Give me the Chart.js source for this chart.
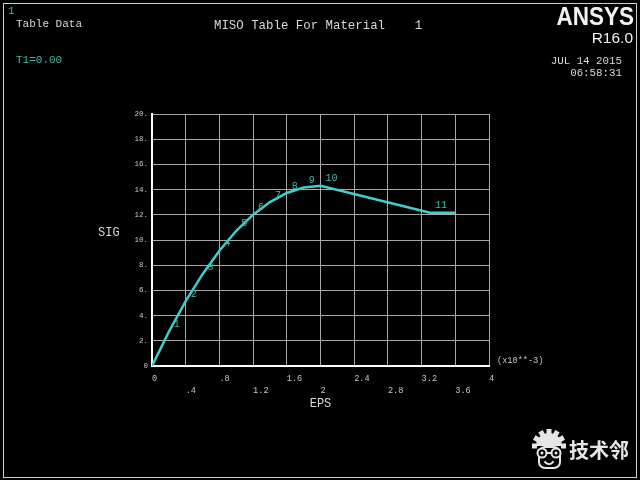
<!DOCTYPE html>
<html>
<head>
<meta charset="utf-8">
<script src="https://cdn.jsdelivr.net/npm/chart.js@4.4.0/dist/chart.umd.min.js"></script>
<style>
  html, body { margin: 0; padding: 0; background: #000; }
  canvas { display: block; }
</style>
</head>
<body>
<canvas id="chart" width="640" height="480"></canvas>
<script>
// --- Data ---
const epsValues = [0, 0.2, 0.4, 0.6, 0.8, 1.0, 1.2, 1.4, 1.6, 1.8, 2.0, 3.3, 3.6];
const sigValues = [0, 2.72, 5.15, 7.29, 9.15, 10.73, 12.01, 13.01, 13.73, 14.16, 14.3, 12.16, 12.16];
const pointNumbers = ['', '1', '2', '3', '4', '5', '6', '7', '8', '9', '10', '11', ''];

const xTickValues = [0, 0.4, 0.8, 1.2, 1.6, 2.0, 2.4, 2.8, 3.2, 3.6, 4.0];
const xTickLabels = ['0', '.4', '.8', '1.2', '1.6', '2', '2.4', '2.8', '3.2', '3.6', '4'];
const yTickValues = [0, 2, 4, 6, 8, 10, 12, 14, 16, 18, 20];
const yTickLabels = ['0', '2.', '4.', '6.', '8.', '10.', '12.', '14.', '16.', '18.', '20.'];

// --- Colours & fonts ---
const MONO = '"Liberation Mono", "DejaVu Sans Mono", monospace';
const textGrey = '#d8d8d8';
const tickGrey = '#c8c8c8';
const gridGrey = '#a8a8a8';
const curveCyan = '#3fcfcf';
const labelTeal = '#3cbfa8';

// black page + outer frame
const backgroundPlugin = {
    id: 'background',
    beforeDraw(chart) {
        const ctx = chart.ctx;
        ctx.save();
        ctx.fillStyle = '#000';
        ctx.fillRect(0, 0, chart.width, chart.height);
        ctx.strokeStyle = '#cfcfcf';
        ctx.lineWidth = 1;
        ctx.strokeRect(3.5, 3.5, 633, 474);
        ctx.restore();
    }
};

function drawWatermark(ctx) {
    ctx.save();
    ctx.fillStyle = '#e6e6e6';
    ctx.strokeStyle = '#e6e6e6';

    // gear shaped hair
    const gx = 549, gy = 446;
    ctx.beginPath();
    ctx.arc(gx, gy, 13, Math.PI, 0);
    ctx.closePath();
    ctx.fill();
    for (let k = 0; k <= 6; k++) {
        const a = Math.PI + k * Math.PI / 6;
        ctx.save();
        ctx.translate(gx + Math.cos(a) * 14, gy + Math.sin(a) * 14);
        ctx.rotate(a + Math.PI / 2);
        ctx.fillRect(-2.5, -3, 5, 5);
        ctx.restore();
    }

    // face
    ctx.fillStyle = '#000';
    ctx.lineWidth = 2;
    ctx.beginPath();
    ctx.roundRect(539, 447, 21, 21, 6);
    ctx.fill();
    ctx.stroke();

    // glasses
    [542, 556].forEach(x => {
        ctx.beginPath();
        ctx.arc(x, 453, 4.5, 0, Math.PI * 2);
        ctx.fillStyle = '#000';
        ctx.fill();
        ctx.stroke();
        ctx.beginPath();
        ctx.arc(x, 453, 1.5, 0, Math.PI * 2);
        ctx.fillStyle = '#e6e6e6';
        ctx.fill();
    });
    ctx.beginPath();
    ctx.moveTo(546.5, 453);
    ctx.lineTo(551.5, 453);
    ctx.stroke();

    // smile
    ctx.beginPath();
    ctx.arc(549, 459, 5, 0.15 * Math.PI, 0.85 * Math.PI);
    ctx.stroke();

    ctx.fillStyle = '#e6e6e6';
    ctx.font = 'bold 20px "Noto Sans CJK SC", sans-serif';
    ctx.textAlign = 'left';
    ctx.textBaseline = 'middle';
    ctx.fillText('技术邻', 569, 450);
    ctx.restore();
}

// header texts, axis caption, point numbers
const annotationPlugin = {
    id: 'annotations',
    afterDraw(chart) {
        const ctx = chart.ctx;
        ctx.save();
        ctx.textBaseline = 'middle';
        ctx.textAlign = 'left';

        ctx.fillStyle = labelTeal;
        ctx.font = '11px ' + MONO;
        ctx.fillText('1', 8, 11);
        ctx.fillText('T1=0.00', 16, 60);

        ctx.fillStyle = textGrey;
        ctx.fillText('Table Data', 16, 24.5);
        ctx.font = '12.4px ' + MONO;
        ctx.fillText('MISO Table For Material    1', 214, 25.3);

        ctx.textAlign = 'right';
        ctx.font = '10.8px ' + MONO;
        ctx.fillText('JUL 14 2015', 622, 60.7);
        ctx.fillText('06:58:31', 622, 73.3);

        // logo
        ctx.fillStyle = '#f2f2f2';
        ctx.textBaseline = 'alphabetic';
        ctx.save();
        ctx.translate(634, 25);
        ctx.scale(0.9, 1);
        ctx.font = 'bold 25px "Liberation Sans", Arial, sans-serif';
        ctx.fillText('ANSYS', 0, 0);
        ctx.restore();
        ctx.font = '15.5px "Liberation Sans", Arial, sans-serif';
        ctx.fillText('R16.0', 633, 43);

        // axis caption
        ctx.textBaseline = 'middle';
        ctx.textAlign = 'left';
        ctx.fillStyle = textGrey;
        ctx.font = '12px ' + MONO;
        ctx.fillText('SIG', 98, 232.5);
        ctx.fillStyle = tickGrey;
        ctx.font = '8.6px ' + MONO;
        ctx.fillText('(x10**-3)', 497, 361);

        // point numbers next to the table points
        const meta = chart.getDatasetMeta(0);
        ctx.fillStyle = labelTeal;
        ctx.font = '10px ' + MONO;
        meta.data.forEach((el, i) => {
            if (pointNumbers[i]) ctx.fillText(pointNumbers[i], el.x + 5, el.y - 7);
        });
        ctx.restore();

        drawWatermark(ctx);
    }
};

const ctx = document.getElementById('chart').getContext('2d');
const chart = new Chart(ctx, {
    type: 'line',
    data: {
        datasets: [{
            label: 'MISO',
            data: epsValues.map((x, i) => ({ x: x, y: sigValues[i] })),
            borderColor: curveCyan,
            borderWidth: 2.5,
            pointRadius: 0,
            tension: 0,
            fill: false
        }]
    },
    options: {
        responsive: false,
        animation: false,
        events: [],
        layout: { padding: { left: 0, top: 114, right: 151, bottom: 0 } },
        plugins: {
            legend: { display: false },
            tooltip: { enabled: false },
            title: { display: false }
        },
        scales: {
            x: {
                type: 'linear',
                min: 0,
                max: 4,
                afterBuildTicks: s => { s.ticks = xTickValues.map(v => ({ value: v })); },
                afterFit: s => { s.height = 114; },
                ticks: {
                    callback: (v, i) => (i % 2 ? ['', xTickLabels[i]] : xTickLabels[i]),
                    align: 'start',
                    padding: 6,
                    autoSkip: false,
                    maxRotation: 0,
                    color: tickGrey,
                    font: { family: MONO, size: 8.6, lineHeight: 1.45 }
                },
                grid: { color: gridGrey, lineWidth: 1, drawTicks: false },
                border: { color: '#ffffff', width: 2 },
                title: {
                    display: true,
                    text: 'EPS',
                    color: textGrey,
                    font: { family: MONO, size: 12 },
                    padding: { top: 0, bottom: 69 }
                }
            },
            y: {
                type: 'linear',
                min: 0,
                max: 20,
                afterBuildTicks: s => { s.ticks = yTickValues.map(v => ({ value: v })); },
                afterFit: s => { s.width = 152; },
                ticks: {
                    callback: (v, i) => yTickLabels[i],
                    padding: 4,
                    autoSkip: false,
                    color: tickGrey,
                    font: { family: MONO, size: 7.5 }
                },
                grid: { color: gridGrey, lineWidth: 1, drawTicks: false },
                border: { color: '#ffffff', width: 2 }
            }
        }
    },
    plugins: [backgroundPlugin, annotationPlugin]
});
</script>
</body>
</html>
